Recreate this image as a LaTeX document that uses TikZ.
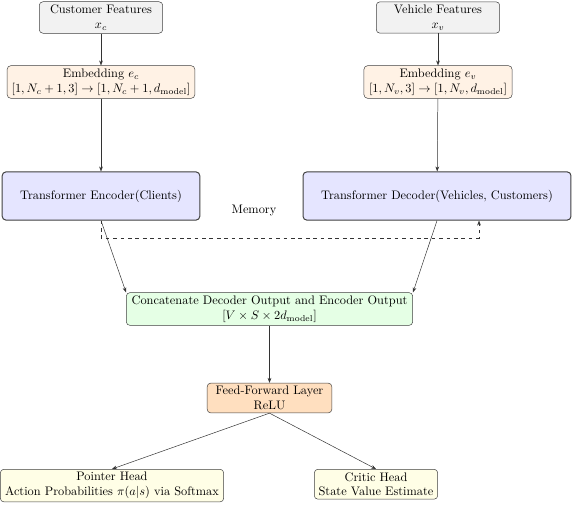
\documentclass[tikz,border=0pt]{standalone}
\usepackage{amsmath,amssymb}
\usepackage{tikz}
\usetikzlibrary{arrows.meta,positioning,calc}

\tikzset{
  blk/.style={draw=black!75, rounded corners=3pt, align=center, inner sep=2.5pt},
  feat/.style={blk, fill=gray!10, minimum width=100pt},
  emb/.style={blk, fill=orange!10},
  tfm/.style={blk, thick, fill=blue!10, minimum height=39pt},
  head/.style={blk, fill=yellow!10},
  flow/.style={-{Stealth[length=4pt,width=3pt]}, black!80},
}

\begin{document}
\begin{tikzpicture}[x=0.81pt, y=-0.81pt]
\useasboundingbox (0,0) rectangle (573,505);
% inputs
\node[feat] (cust) at (101,17.5) {Customer Features\\$x_c$};
\node[feat] (veh) at (438,17.5) {Vehicle Features\\$x_v$};
\node[emb, minimum width=152pt] (embc) at (101,82) {Embedding $e_c$\\$[1,N_c+1,3]\rightarrow[1,N_c+1,d_{\text{model}}]$};
\node[emb, minimum width=120pt] (embv) at (438,82) {Embedding $e_v$\\$[1,N_v,3]\rightarrow[1,N_v,d_{\text{model}}]$};
% transformer
\node[tfm, minimum width=160pt] (enc) at (101,196) {Transformer Encoder(Clients)};
\node[tfm, minimum width=217pt] (dec) at (437,196) {Transformer Decoder(Vehicles, Customers)};
\node (mem) at (254,211) {Memory};
% heads
\node[blk, fill=green!10, minimum width=232pt] (cat) at (269.5,309) {Concatenate Decoder Output and Encoder Output\\$[V\times S\times 2d_{\text{model}}]$};
\node[blk, fill=orange!25, minimum width=101pt] (ff) at (269.5,398) {Feed-Forward Layer\\ReLU};
\node[head, minimum width=181pt, anchor=north] (ptr) at (112,469) {Pointer Head\\Action Probabilities $\pi(a|s)$ via Softmax};
\node[head, minimum width=100pt, anchor=north] (crit) at (376,469) {Critic Head\\State Value Estimate};

\draw[flow] (cust) -- (embc);
\draw[flow] (veh) -- (embv);
\draw[flow] (embc) -- (enc);
\draw[flow] (embv) -- (dec);
\coordinate (memin) at ($(dec.south)+(42,0)$);
\draw[flow, dashed] (enc.south) |- (238,238) -| (memin);
\draw[flow] (enc.south) -- (cat.north west);
\draw[flow] (dec.south) -- (cat.north east);
\draw[flow] (cat) -- (ff);
\draw[flow] (ff.south) -- (ptr.north);
\draw[flow] (ff.south) -- (crit.north);
\end{tikzpicture}
\end{document}
